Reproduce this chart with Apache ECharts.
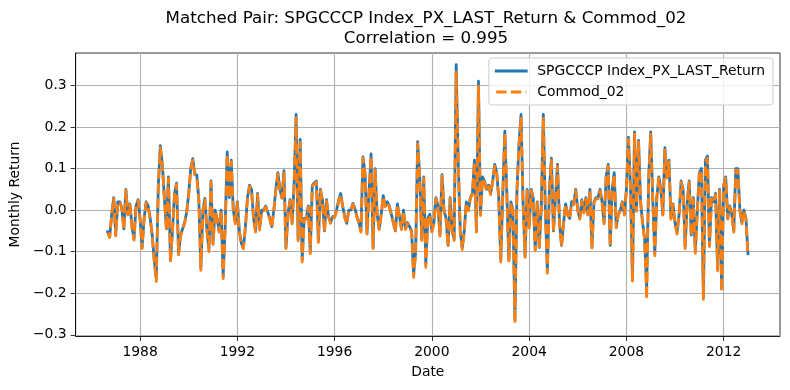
<!DOCTYPE html>
<html><head><meta charset="utf-8">
<script src="https://cdn.jsdelivr.net/npm/echarts@6/dist/echarts.min.js"></script>
<style>html,body{margin:0;padding:0;background:#fff}#c{width:790px;height:390px}</style>
</head><body><div id="c"></div>
<script>
const startYear = 1986, startMonth = 9; // first observation: Sep 1986, monthly
const seriesNames = ['SPGCCCP Index_PX_LAST_Return', 'Commod_02'];
const spgcccp = [
-0.052,-0.065,-0.01,0.03,-0.06,0.02,0.02,0.005,-0.045,0.05,-0.01,0.015,
-0.04,-0.07,0.01,0.025,-0.02,-0.09,-0.02,0.02,0.01,-0.02,-0.06,-0.12,
-0.165,0.06,0.155,0.11,0.03,-0.045,0.08,-0.12,-0.05,0.04,0.065,-0.105,
-0.06,-0.045,-0.03,-0.005,0.04,0.1,0.124,0.088,0.084,0.025,-0.14,0.0,
0.028,-0.048,-0.096,0.07,-0.08,0.0,-0.02,-0.05,0.0,-0.16,-0.04,0.14,
0.03,0.12,0.0,-0.03,0.02,-0.05,-0.08,-0.09,-0.04,0.03,0.06,0.05,
-0.02,-0.05,0.04,-0.045,0.0,0.0,0.01,-0.005,-0.02,-0.04,0.0,0.05,
0.09,0.05,0.03,0.095,-0.09,-0.01,0.025,-0.03,0.06,0.23,-0.07,0.17,
-0.12,-0.02,-0.02,0.01,-0.1,0.06,0.065,0.07,-0.075,0.05,0.025,-0.05,
0.025,-0.015,-0.03,-0.016,-0.016,0.0,0.024,0.04,0.01,-0.016,-0.032,0.0,
0.0,0.016,0.005,-0.015,-0.03,-0.05,0.128,0.09,-0.055,0.045,0.135,-0.09,
0.1,-0.01,-0.045,-0.01,0.035,0.01,0.02,0.01,-0.01,-0.03,-0.05,0.015,
-0.015,-0.045,0.0,-0.045,-0.03,-0.04,-0.05,-0.155,-0.1,0.165,0.08,-0.07,
0.08,-0.13,-0.02,-0.01,-0.05,-0.03,0.03,0.01,-0.06,0.085,0.0,-0.02,
-0.085,0.03,-0.05,-0.07,0.35,0.12,-0.05,-0.09,-0.05,0.02,0.0,0.03,
0.04,0.12,-0.05,0.31,-0.01,0.08,0.07,0.05,0.06,0.04,0.07,0.11,
0.09,0.03,-0.12,0.04,0.19,0.04,-0.12,0.02,0.0,-0.265,0.05,0.16,
0.23,0.02,-0.11,0.05,-0.04,0.05,0.03,-0.095,0.02,-0.09,0.01,0.23,
0.0,-0.145,0.05,0.125,-0.05,0.03,0.11,-0.03,-0.085,-0.03,0.015,-0.01,
-0.02,0.02,0.016,0.05,0.0,-0.02,0.025,-0.005,0.03,-0.01,0.05,-0.09,
0.02,0.03,0.03,0.05,0.02,-0.03,0.08,0.11,-0.085,0.05,0.09,-0.04,
-0.01,0.0,0.02,-0.01,0.05,0.175,0.06,-0.168,0.188,0.0,0.168,0.02,
-0.03,-0.07,-0.19,0.08,0.188,0.03,-0.105,0.03,0.08,0.05,-0.01,0.15,
0.08,0.12,-0.02,0.015,-0.03,-0.055,-0.01,0.07,0.05,-0.088,0.02,0.07,
-0.06,0.03,-0.1,0.0,0.09,0.1,-0.208,0.12,0.13,-0.085,0.03,0.02,
0.04,-0.14,0.05,-0.19,0.06,0.08,-0.02,0.01,-0.01,-0.05,0.1,0.1,
0.0,-0.03,0.0,-0.02,-0.105
];
const commod02 = [
-0.055,-0.066,-0.012,0.028,-0.062,0.018,0.02,0.003,-0.047,0.048,-0.012,0.013,
-0.042,-0.072,0.008,0.023,-0.022,-0.093,-0.022,0.018,0.008,-0.022,-0.063,-0.125,
-0.172,0.055,0.15,0.105,0.028,-0.048,0.077,-0.125,-0.052,0.037,0.062,-0.108,
-0.062,-0.047,-0.032,-0.007,0.037,0.097,0.12,0.085,0.08,0.022,-0.145,-0.003,
0.025,-0.05,-0.1,0.067,-0.083,-0.002,-0.022,-0.053,-0.002,-0.165,-0.043,0.135,
0.028,0.116,-0.002,-0.033,0.018,-0.053,-0.085,-0.093,-0.042,0.028,0.057,0.047,
-0.022,-0.053,0.037,-0.048,-0.002,-0.002,0.008,-0.007,-0.022,-0.043,-0.002,0.047,
0.087,0.047,0.028,0.09,-0.093,-0.012,0.022,-0.033,0.056,0.222,-0.074,0.162,
-0.125,-0.023,-0.022,0.008,-0.105,0.057,0.062,0.067,-0.078,0.047,0.022,-0.053,
0.022,-0.017,-0.032,-0.018,-0.018,-0.002,0.022,0.037,0.008,-0.018,-0.034,-0.002,
-0.002,0.014,0.003,-0.017,-0.032,-0.053,0.125,0.087,-0.058,0.042,0.13,-0.093,
0.097,-0.012,-0.047,-0.012,0.032,0.008,0.018,0.008,-0.012,-0.032,-0.053,0.013,
-0.017,-0.047,-0.002,-0.047,-0.032,-0.042,-0.053,-0.162,-0.104,0.16,0.077,-0.073,
0.077,-0.138,-0.022,-0.012,-0.053,-0.032,0.028,0.008,-0.063,0.082,-0.002,-0.022,
-0.088,0.028,-0.053,-0.073,0.332,0.115,-0.053,-0.095,-0.053,0.018,-0.002,0.028,
0.037,0.116,-0.053,0.298,-0.013,0.077,0.067,0.047,0.057,0.037,0.067,0.106,
0.087,0.028,-0.125,0.037,0.185,0.037,-0.125,0.018,-0.003,-0.272,0.046,0.155,
0.224,0.018,-0.114,0.047,-0.043,0.047,0.027,-0.098,0.018,-0.093,0.008,0.224,
-0.003,-0.152,0.047,0.12,-0.053,0.027,0.106,-0.033,-0.088,-0.033,0.013,-0.012,
-0.022,0.018,0.013,0.047,-0.002,-0.022,0.022,-0.007,0.027,-0.012,0.047,-0.095,
0.018,0.027,0.027,0.047,0.018,-0.033,0.077,0.106,-0.088,0.047,0.086,-0.043,
-0.012,-0.002,0.018,-0.012,0.047,0.17,0.057,-0.174,0.183,-0.003,0.164,0.018,
-0.033,-0.073,-0.215,0.075,0.183,0.027,-0.11,0.027,0.077,0.047,-0.012,0.145,
0.077,0.116,-0.022,0.013,-0.033,-0.058,-0.012,0.067,0.047,-0.093,0.018,0.067,
-0.063,0.027,-0.104,-0.002,0.086,0.096,-0.215,0.116,0.125,-0.088,0.027,0.018,
0.037,-0.146,0.047,-0.196,0.057,0.077,-0.022,0.008,-0.012,-0.053,0.096,0.096,
-0.002,-0.033,-0.002,-0.022,-0.11
];
const xTickYears = [1988, 1992, 1996, 2000, 2004, 2008, 2012];
const yTickValues = [-0.3, -0.2, -0.1, 0.0, 0.1, 0.2, 0.3];

// decimal-year date for each monthly observation
const dates = spgcccp.map((_, i) => startYear + (startMonth - 1 + i) / 12);
const xFirst = dates[0], xLast = dates[dates.length - 1];
const xPad = (xLast - xFirst) * 0.05;

const FONT = 'DejaVu Sans';
const LW = 2.78; // 2pt at 100 dpi
const chart = echarts.init(document.getElementById('c'), null, {renderer: 'canvas'});
chart.setOption({
  animation: false,
  backgroundColor: '#ffffff',
  title: {
    text: 'Matched Pair: SPGCCCP Index_PX_LAST_Return & Commod_02\nCorrelation = 0.995',
    left: 426, top: 9, padding: 0, textAlign: 'center',
    textStyle: {fontFamily: FONT, fontSize: 16.7, fontWeight: 'normal', color: '#000', lineHeight: 20}
  },
  legend: {
    orient: 'vertical', right: 17, top: 58,
    padding: [6, 8, 6, 6],
    itemWidth: 30, itemHeight: 16, itemGap: 7,
    backgroundColor: 'rgba(255,255,255,0.8)', borderColor: '#cccccc', borderWidth: 1, borderRadius: 3,
    itemStyle: {opacity: 0},
    lineStyle: {width: LW},
    textStyle: {fontFamily: FONT, fontSize: 13.9, color: '#000', padding: [0, 0, 0, 6]},
    data: seriesNames
  },
  grid: {left: 72, right: 10, top: 53, bottom: 54, show: true, borderColor: '#000', borderWidth: 0.8, backgroundColor: 'transparent'},
  xAxis: {
    type: 'value', min: xFirst - xPad, max: xLast + xPad,
    name: 'Date', nameLocation: 'middle', nameGap: 29,
    nameTextStyle: {fontFamily: FONT, fontSize: 13.9, color: '#000'},
    axisLine: {show: true, onZero: false, lineStyle: {color: '#000', width: 0.8}},
    axisTick: {show: true, inside: false, length: 5, lineStyle: {color: '#000', width: 0.8}, customValues: xTickYears},
    axisLabel: {margin: 9, fontFamily: FONT, fontSize: 13.9, color: '#000', customValues: xTickYears, formatter: v => String(Math.round(v))},
    splitLine: {show: true, lineStyle: {color: '#b0b0b0', width: 1.1}}
  },
  yAxis: {
    type: 'value', min: -0.303, max: 0.378,
    name: 'Monthly Return', nameLocation: 'middle', nameGap: 45,
    nameTextStyle: {fontFamily: FONT, fontSize: 13.9, color: '#000'},
    axisLine: {show: true, onZero: false, lineStyle: {color: '#000', width: 0.8}},
    axisTick: {show: true, inside: false, length: 5, lineStyle: {color: '#000', width: 0.8}, customValues: yTickValues},
    axisLabel: {margin: 9, fontFamily: FONT, fontSize: 13.9, color: '#000', customValues: yTickValues,
      formatter: v => (Math.abs(v) < 1e-9 ? '0.0' : v.toFixed(1)).replace('-', '\u2212')},
    splitLine: {show: true, lineStyle: {color: '#b0b0b0', width: 1.1}}
  },
  series: [
    {name: seriesNames[0], type: 'line', symbol: 'none', silent: true,
     data: dates.map((d, i) => [d, spgcccp[i]]),
     lineStyle: {color: '#1f77b4', width: LW, join: 'round', cap: 'square'}, itemStyle: {color: '#1f77b4'}},
    {name: seriesNames[1], type: 'line', symbol: 'none', silent: true,
     data: dates.map((d, i) => [d, commod02[i]]),
     lineStyle: {color: '#ff7f0e', width: LW, type: [10.3, 4.4], join: 'round', cap: 'butt'}, itemStyle: {color: '#ff7f0e'}}
  ]
});
</script></body></html>
